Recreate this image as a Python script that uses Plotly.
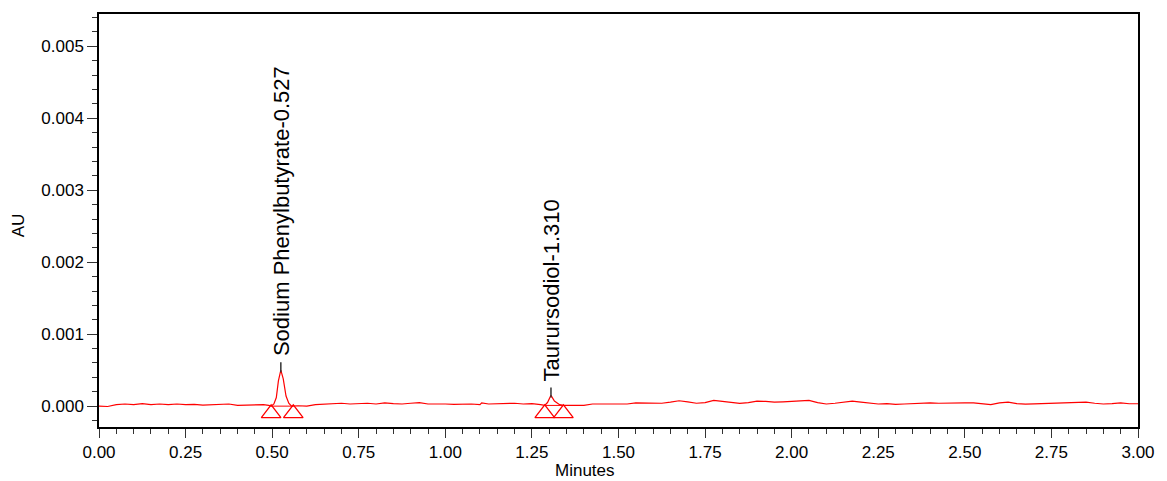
import plotly.graph_objects as go

# ---- chromatogram trace (time in minutes, absorbance in AU) ----
time_min = [
    0.000, 0.025, 0.050, 0.075, 0.100, 0.125, 0.150, 0.175, 0.200, 0.225,
    0.250, 0.275, 0.300, 0.325, 0.350, 0.375, 0.400, 0.425, 0.450, 0.475,
    0.490, 0.497, 0.505, 0.512, 0.518, 0.525, 0.532, 0.540, 0.548, 0.556,
    0.575, 0.600, 0.625, 0.650, 0.675, 0.700, 0.725, 0.750, 0.775, 0.800,
    0.825, 0.850, 0.875, 0.900, 0.925, 0.950, 0.975, 1.000, 1.025, 1.050,
    1.075, 1.100, 1.105, 1.125, 1.150, 1.175, 1.200, 1.225, 1.250, 1.275,
    1.287, 1.295, 1.305, 1.315, 1.330, 1.341, 1.360, 1.375, 1.400, 1.425,
    1.450, 1.475, 1.500, 1.525, 1.550, 1.575, 1.600, 1.625, 1.650, 1.675,
    1.700, 1.725, 1.750, 1.775, 1.800, 1.825, 1.850, 1.875, 1.900, 1.925,
    1.950, 1.975, 2.000, 2.025, 2.050, 2.075, 2.100, 2.125, 2.150, 2.175,
    2.200, 2.225, 2.250, 2.275, 2.300, 2.325, 2.350, 2.375, 2.400, 2.425,
    2.450, 2.475, 2.500, 2.525, 2.550, 2.575, 2.600, 2.625, 2.650, 2.675,
    2.700, 2.725, 2.750, 2.775, 2.800, 2.825, 2.850, 2.875, 2.900, 2.925,
    2.950, 2.975, 3.000,
]
absorbance_1e5 = [
    0.0, -0.5, 2.0, 3.0, 2.0, 3.5, 2.0, 3.0, 2.0, 3.0,
    2.0, 2.5, 1.5, 2.0, 1.5, 3.0, 1.0, 1.5, 1.5, 2.0,
    1.0, 0.0, 3.0, 12.0, 35.0, 50.0, 38.0, 14.0, 4.0, 0.0,
    0.5, 0.0, 2.0, 3.0, 3.0, 4.0, 3.0, 3.5, 4.0, 3.0,
    4.5, 3.5, 3.0, 4.0, 5.0, 3.0, 3.5, 3.0, 2.5, 3.0,
    3.0, 2.0, 4.5, 3.0, 3.5, 3.5, 4.0, 3.0, 3.5, 2.0,
    1.0, 5.0, 15.0, 7.0, 2.0, 1.0, 1.0, 0.5, 1.0, 3.0,
    3.0, 3.0, 3.5, 3.0, 4.5, 4.0, 3.7, 4.0, 5.5, 7.5,
    6.0, 4.0, 5.0, 8.0, 6.5, 5.0, 3.7, 5.0, 7.0, 6.5,
    5.5, 6.0, 7.0, 7.5, 8.0, 5.0, 3.0, 4.0, 6.0, 7.0,
    5.5, 4.0, 3.0, 3.5, 2.5, 3.0, 3.5, 4.5, 4.5, 4.0,
    4.5, 5.0, 4.5, 4.5, 3.0, 2.0, 4.5, 5.5, 3.5, 2.8,
    3.2, 3.7, 4.0, 4.5, 5.0, 5.8, 5.5, 4.0, 3.0, 3.5,
    4.5, 3.3, 3.3,
]
absorbance = [v * 1e-5 for v in absorbance_1e5]

# ---- integrated peaks ----
peak_names = ["Sodium Phenylbutyrate-0.527", "Taurursodiol-1.310"]
peak_apex_time = [0.525, 1.305]
peak_apex_au = [0.00050, 0.00015]
peak_start = [0.497, 1.287]
peak_end = [0.561, 1.341]
peak_base_au = [0.0, 0.00001]

# ---- axis ticks ----
x_ticks = [0.00, 0.25, 0.50, 0.75, 1.00, 1.25, 1.50, 1.75, 2.00, 2.25, 2.50, 2.75, 3.00]
y_ticks = [0.000, 0.001, 0.002, 0.003, 0.004, 0.005]

RED = "#ff0000"
FONT = "Liberation Sans, Arial, sans-serif"

fig = go.Figure()

fig.add_trace(go.Scatter(
    x=time_min, y=absorbance, mode="lines",
    line=dict(color=RED, width=1.2), hoverinfo="skip", showlegend=False,
))

# baseline segments between peak start / end markers
for s, e, b in zip(peak_start, peak_end, peak_base_au):
    fig.add_trace(go.Scatter(
        x=[s, e], y=[b, b], mode="lines",
        line=dict(color=RED, width=1), hoverinfo="skip", showlegend=False,
    ))

# start / end triangles
tri_x = peak_start + peak_end
fig.add_trace(go.Scatter(
    x=tri_x, y=[-0.0001] * len(tri_x), mode="markers",
    marker=dict(symbol="triangle-up-open", size=17, color=RED, line=dict(width=1.3, color=RED)),
    hoverinfo="skip", showlegend=False, cliponaxis=False,
))

# peak label ticks and labels
shapes = []
annotations = []
for name, t, h in zip(peak_names, peak_apex_time, peak_apex_au):
    shapes.append(dict(type="line", xref="x", yref="y", x0=t, x1=t,
                       y0=h - 0.00003, y1=h + 0.00011,
                       line=dict(color="#333333", width=1.5)))
    annotations.append(dict(x=t, y=h + 0.00011, xref="x", yref="y", text=name,
                            textangle=-90, showarrow=False, xanchor="center",
                            yanchor="bottom", yshift=4,
                            font=dict(family=FONT, size=22, color="black")))

annotations.append(dict(x=-0.0777, y=0.489, xref="paper", yref="paper", text="AU",
                        textangle=-90, showarrow=False, xanchor="center", yanchor="middle",
                        font=dict(family=FONT, size=17, color="black")))
annotations.append(dict(x=0.468, y=-0.105, xref="paper", yref="paper", text="Minutes",
                        showarrow=False, xanchor="center", yanchor="middle",
                        font=dict(family=FONT, size=17, color="black")))

fig.update_layout(
    width=1167, height=481,
    margin=dict(l=99, r=25, t=14, b=54),
    paper_bgcolor="white", plot_bgcolor="white",
    font=dict(family=FONT, size=17, color="black"),
    shapes=shapes, annotations=annotations,
    showlegend=False,
)

fig.update_xaxes(
    range=[0, 3], tickvals=x_ticks, ticktext=[f"{v:.2f}" for v in x_ticks],
    ticks="outside", ticklen=9, tickwidth=1.2, tickcolor="#333333",
    showline=True, linecolor="black", linewidth=1.5, mirror=True,
    showgrid=False, zeroline=False,
    minor=dict(dtick=0.05, tick0=0, ticks="outside", ticklen=5, tickwidth=1.2, tickcolor="#333333", showgrid=False),
    tickfont=dict(family=FONT, size=17),
)
fig.update_yaxes(
    range=[-0.00029, 0.00545], tickvals=y_ticks, ticktext=[f"{v:.3f}" for v in y_ticks],
    ticks="outside", ticklen=10, tickwidth=1.2, tickcolor="#333333",
    showline=True, linecolor="black", linewidth=1.5, mirror=True,
    showgrid=False, zeroline=False,
    minor=dict(dtick=0.0002, tick0=0, ticks="outside", ticklen=5, tickwidth=1.2, tickcolor="#333333", showgrid=False),
    tickfont=dict(family=FONT, size=17),
)

fig.write_html("out.html")
